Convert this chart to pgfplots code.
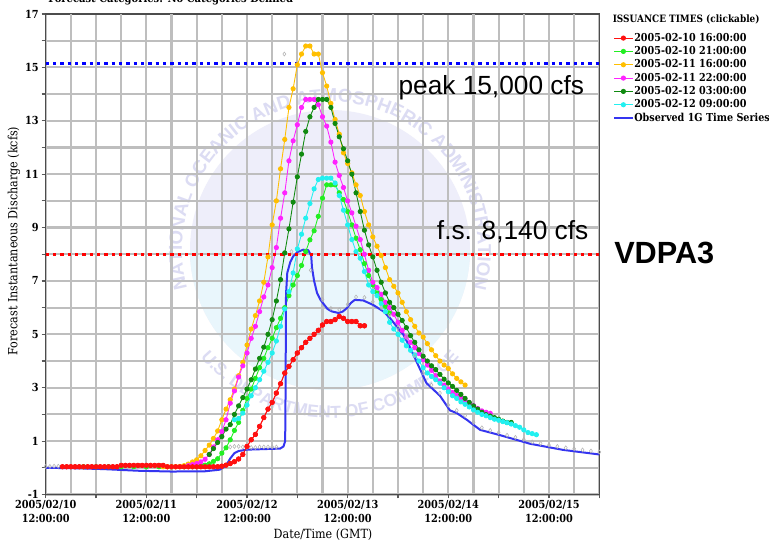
\documentclass[border=0pt]{standalone}
\usepackage{fontspec}
\setmainfont{DejaVu Serif}[FakeStretch=0.88]
\newfontfamily\sansf{Liberation Sans}
\usepackage{pgfplots}
\usepackage{pgfplotstable}
\pgfplotsset{compat=1.18}
\usetikzlibrary{decorations.text}

\definecolor{cRed}{HTML}{FF1010}
\definecolor{cLime}{HTML}{22EE22}
\definecolor{cOrange}{HTML}{FFBF00}
\definecolor{cMag}{HTML}{FF22FF}
\definecolor{cDG}{HTML}{108A10}
\definecolor{cCyan}{HTML}{22F0F0}
\definecolor{cObs}{HTML}{3535F0}
\definecolor{gridc}{HTML}{BEBEBE}
\definecolor{wmLav}{HTML}{EEEEFA}
\definecolor{wmCyan}{HTML}{E9F6FC}
\definecolor{wmText}{HTML}{DCDCF3}

\pgfplotstableread{
h v
4 0.04
5 0.04
6 0.04
7 0.04
8 0.04
9 0.04
10 0.04
11 0.04
12 0.04
13 0.04
14 0.04
15 0.04
16 0.04
17 0.04
18 0.09
19 0.09
20 0.09
21 0.09
22 0.09
23 0.09
24 0.09
25 0.09
26 0.09
27 0.09
28 0.09
29 0.04
30 0.04
31 0.04
32 0.04
33 0.04
34 0.04
35 0.04
36 0.04
37 0.04
38 0.04
39 0.04
40 0.04
41 0.04
42 0.06
43 0.10
44 0.16
45 0.23
46 0.33
47 0.50
48 0.80
49 1.05
50 1.25
51 1.55
52 1.88
53 2.20
54 2.45
55 2.80
56 3.15
57 3.55
58 3.80
59 4.05
60 4.30
61 4.50
62 4.70
63 4.85
64 5.00
65 5.15
66 5.35
67 5.48
68 5.48
69 5.55
70 5.67
71 5.60
72 5.48
73 5.48
74 5.48
75 5.32
76 5.32
}\redtab

\pgfplotstableread{
h v
9 0.04
12 0.04
15 0.04
18 0.04
21 0.04
24 0.04
27 0.04
30 0.04
33 0.04
35 0.04
36 0.05
37 0.07
38 0.10
39 0.15
40 0.24
41 0.34
42 0.55
43 0.75
44 1.05
45 1.40
46 1.70
47 2.15
48 2.60
49 2.95
50 3.35
51 3.75
52 4.10
53 4.50
54 4.85
55 5.25
56 5.60
57 6.00
58 6.45
59 6.85
60 7.20
61 7.58
62 8.10
63 8.54
64 8.88
65 9.42
66 10.10
67 10.60
68 10.60
69 10.60
70 10.30
71 10.05
72 9.60
73 9.10
74 8.60
75 8.17
76 7.65
77 7.20
78 6.85
79 6.55
80 6.30
81 6.05
82 5.80
}\limetab

\pgfplotstableread{
h v
28 0.04
29 0.04
30 0.04
31 0.04
32 0.05
33 0.08
34 0.14
35 0.22
36 0.30
37 0.45
38 0.65
39 0.85
40 1.10
41 1.38
42 1.80
43 2.20
44 2.55
45 2.95
46 3.45
47 3.95
48 4.60
49 5.20
50 5.70
51 6.25
52 6.95
53 7.90
54 9.10
55 10.00
56 11.20
57 12.30
58 13.50
59 14.20
60 15.10
61 15.50
62 15.80
63 15.80
64 15.50
65 15.50
66 14.80
67 14.30
68 13.65
69 13.05
70 12.50
71 11.80
72 11.40
73 11.05
74 10.60
75 10.20
76 9.60
77 9.10
78 8.65
79 8.30
80 7.95
81 7.50
82 7.05
83 6.80
84 6.55
85 6.20
86 5.85
87 5.55
88 5.30
89 5.05
90 4.90
91 4.65
92 4.42
93 4.20
94 4.00
95 3.85
96 3.72
97 3.52
98 3.35
99 3.22
100 3.10
}\orangetab

\pgfplotstableread{
h v
34 0.08
35 0.12
36 0.16
37 0.22
38 0.32
39 0.50
40 0.78
41 1.05
42 1.36
43 1.80
44 2.42
45 2.88
46 3.40
47 3.82
48 4.30
49 4.85
50 5.30
51 5.85
52 6.40
53 6.85
54 7.50
55 8.25
56 9.35
57 10.30
58 11.50
59 12.25
60 12.85
61 13.50
62 13.80
63 13.80
64 13.80
65 13.60
66 13.15
67 12.80
68 12.20
69 11.45
70 10.95
71 10.50
72 10.00
73 9.55
74 9.05
75 8.55
76 8.00
77 7.40
78 6.95
79 6.75
80 6.50
81 6.20
82 6.00
83 5.75
84 5.45
85 5.15
86 4.90
87 4.70
88 4.50
89 4.28
90 4.05
91 3.85
92 3.65
93 3.45
94 3.25
95 3.10
96 2.95
97 2.82
98 2.72
99 2.62
100 2.52
101 2.43
102 2.33
103 2.22
104 2.13
105 2.08
106 2.04
}\magtab

\pgfplotstableread{
h v
39 0.50
40 0.72
41 0.95
42 1.17
43 1.45
44 1.62
45 2.00
46 2.32
47 2.63
48 2.95
49 3.30
50 3.70
51 4.10
52 4.52
53 5.00
54 5.55
55 6.25
56 7.05
57 8.05
58 8.95
59 9.95
60 10.90
61 11.75
62 12.60
63 13.15
64 13.50
65 13.80
66 13.80
67 13.80
68 13.50
69 12.90
70 12.40
71 11.95
72 11.50
73 11.00
74 10.30
75 9.60
76 8.90
77 8.35
78 7.90
79 7.40
80 6.95
81 6.55
82 6.20
83 6.00
84 5.75
85 5.52
86 5.25
87 4.95
88 4.70
89 4.42
90 4.18
91 4.00
92 3.82
93 3.68
94 3.50
95 3.32
96 3.18
97 3.05
98 2.90
99 2.75
100 2.60
101 2.45
102 2.32
103 2.20
104 2.08
105 1.99
106 1.94
107 1.88
108 1.82
109 1.75
110 1.70
111 1.70
}\dgtab

\pgfplotstableread{
h v
45 1.80
46 1.85
47 2.05
48 2.35
49 2.70
50 3.00
51 3.30
52 3.62
53 3.95
54 4.30
55 4.75
56 5.30
57 5.95
58 6.60
59 7.30
60 8.20
61 8.75
62 9.35
63 9.90
64 10.45
65 10.80
66 10.85
67 10.85
68 10.85
69 10.67
70 10.20
71 9.65
72 9.10
73 8.55
74 8.10
75 7.85
76 7.35
77 6.85
78 6.60
79 6.45
80 6.15
81 5.85
82 5.45
83 5.20
84 5.00
85 4.78
86 4.57
87 4.40
88 4.23
89 4.00
90 3.75
91 3.55
92 3.42
93 3.30
94 3.17
95 3.00
96 2.85
97 2.70
98 2.60
99 2.47
100 2.38
101 2.28
102 2.17
103 2.08
104 2.00
105 1.95
106 1.88
107 1.82
108 1.78
109 1.73
110 1.69
111 1.64
112 1.58
113 1.52
114 1.42
115 1.32
116 1.28
117 1.24
}\cyantab

\pgfplotstableread{
h v
0 0.00
8 -0.02
14 -0.05
22 -0.11
30 -0.14
38 -0.13
41.5 -0.07
43 0.08
44 0.35
45 0.55
46 0.63
48 0.68
52 0.70
55.9 0.72
56.7 0.80
57.1 1.00
57.2 3.00
57.3 6.50
57.6 7.30
58.3 7.70
59 7.92
60 8.08
61.4 8.17
62.6 8.15
63.3 7.95
63.5 7.50
64 7.00
64.7 6.55
65.5 6.30
66.2 6.15
67.2 5.95
68.2 5.86
69.8 5.80
70.8 5.85
71.8 5.98
72.8 6.18
73.7 6.29
75.7 6.27
78.1 6.10
80.5 5.86
82.1 5.61
83.7 5.29
85.3 4.98
86.9 4.50
88.8 3.85
90.8 3.17
92.3 2.95
94 2.70
96.4 2.15
98 2.05
100.4 1.80
103.6 1.42
108.4 1.22
115.5 0.90
123.4 0.67
132 0.50
}\obstab

\pgfplotstableread{
h v
0 0.05
1 0.05
2 0.06
3 0.06
44 0.78
45 0.80
46 0.80
47 0.78
48 0.76
49 0.76
50 0.76
51 0.78
52 0.78
53 0.78
54 0.78
55 0.78
56.9 15.50
58.6 8.10
63.2 7.40
66 6.30
68 5.97
70 5.92
72 6.12
74 6.40
76 6.38
78 6.22
80 6.00
82 5.72
84 5.25
86 4.90
88 4.20
90 3.55
92 3.10
94 2.80
96 2.35
98 2.15
100 1.95
102 1.70
104 1.50
106 1.40
108 1.32
110 1.22
112 1.14
114 1.06
116 0.97
118 0.91
120 0.85
122 0.80
124 0.75
126 0.71
128 0.67
130 0.63
132 0.59
}\graytab

\pgfplotstableread{
h v
0 15.15
132 15.15
}\peaktab

\pgfplotstableread{
h v
0 7.98
132 7.98
}\fstab

\newcommand\tickfont{\bfseries\fontsize{8.3}{10}\selectfont}

\begin{document}
\begin{tikzpicture}
\useasboundingbox (0,0) rectangle (576.75pt,407.25pt);
\fill[white] (0,0) rectangle (576.75pt,407.25pt);

% faint watermark (centre at pixel 330,250)
\begin{scope}
\fill[wmLav] (247.5pt,219.75pt) circle[radius=105pt];
\begin{scope}
\clip (247.5pt,219.75pt) circle[radius=105pt];
\fill[wmCyan] (130pt,219.75pt) rectangle (370pt,100pt);
\end{scope}
\path[decorate, decoration={text along path, text align=center,
  text={|\sansf\bfseries\fontsize{14}{14}\selectfont\color{wmText}|NATIONAL OCEANIC AND ATMOSPHERIC ADMINISTRATION}}]
  (247.5pt,219.75pt) ++(200:111pt) arc[start angle=200, end angle=-20, radius=111pt];
\path[decorate, decoration={text along path, text align=center,
  text={|\sansf\bfseries\fontsize{13}{13}\selectfont\color{wmText}|U.S. DEPARTMENT OF COMMERCE}}]
  (247.5pt,219.75pt) ++(212:126pt) arc[start angle=212, end angle=328, radius=126pt];
\end{scope}

\begin{axis}[
  at={(34.275pt,36.375pt)}, anchor=south west,
  scale only axis, width=415.2pt, height=360.375pt,
  xmin=0, xmax=132, ymin=-1, ymax=17,
  xtick={0,12,...,132},
  xticklabels={{2005/02/10\\12:00:00},{},{2005/02/11\\12:00:00},{},{2005/02/12\\12:00:00},{},{2005/02/13\\12:00:00},{},{2005/02/14\\12:00:00},{},{2005/02/15\\12:00:00},{}},
  extra x ticks={6,18,30,42,54,66,78,90,102,114,126},
  extra x tick labels={},
  extra x tick style={major tick length=0pt, grid=major},
  ytick={-1,0,...,17},
  yticklabels={-1,{},1,{},3,{},5,{},7,{},9,{},11,{},13,{},15,{},17},
  xmajorgrids, ymajorgrids,
  major grid style={gridc, line width=1.6pt},
  tick align=outside,
  major tick length=3pt,
  tick style={black!65, line width=0.9pt},
  axis line style={black!70, line width=1.1pt},
  xtick pos=bottom, ytick pos=left,
  tick label style={font=\tickfont},
  x tick label style={align=center, inner sep=1.5pt},
  y tick label style={inner sep=2pt},
  legend style={at={(axis description cs:1.0248,0.9626)}, anchor=north west,
    draw=none, fill=none, font=\bfseries\fontsize{8.2}{9}\selectfont,
    legend cell align=left, inner sep=0pt,
    nodes={inner sep=0.6pt, text height=6pt, text depth=1.6pt}, row sep=1.2pt},
  legend image code/.code={\draw[mark repeat=2,mark phase=2,#1] plot coordinates {(0cm,0cm) (0.24cm,0cm) (0.48cm,0cm)};},
  fc/.style={line width=0.65pt, mark=*, mark size=1.6pt, mark options={solid}},
]
\addplot[cRed, fc] table[x=h,y=v] {\redtab};
\addlegendentry{2005-02-10 16:00:00}
\addplot[cLime, fc] table[x=h,y=v] {\limetab};
\addlegendentry{2005-02-10 21:00:00}
\addplot[cOrange, fc] table[x=h,y=v] {\orangetab};
\addlegendentry{2005-02-11 16:00:00}
\addplot[cMag, fc] table[x=h,y=v] {\magtab};
\addlegendentry{2005-02-11 22:00:00}
\addplot[cDG, fc] table[x=h,y=v] {\dgtab};
\addlegendentry{2005-02-12 03:00:00}
\addplot[cCyan, fc] table[x=h,y=v] {\cyantab};
\addlegendentry{2005-02-12 09:00:00}
\addplot[cObs, line width=1.5pt] table[x=h,y=v] {\obstab};
\addlegendentry{Observed 1G Time Series}
\addplot[forget plot, gray!60, only marks, mark=diamond, mark size=1.5pt, mark options={line width=0.4pt}] table[x=h,y=v] {\graytab};
\addplot[forget plot, cRed, fc] table[x=h,y=v] {\redtab};
\addplot[forget plot, blue, line width=2.5pt, dash pattern=on 2.5pt off 3pt] table[x=h,y=v] {\peaktab};
\addplot[forget plot, red, line width=2.5pt, dash pattern=on 2.5pt off 3pt] table[x=h,y=v] {\fstab};
\end{axis}

% texts placed in pixel coordinates (x right, y down)
\begin{scope}[x=0.75pt, y=-0.75pt, yshift=407.25pt]
\node[anchor=base west, inner sep=0pt, font=\bfseries\fontsize{8.5}{10}\selectfont] at (48,2.5) {Forecast Categories: No Categories Defined};
\node[anchor=base west, inner sep=0pt, font=\bfseries\fontsize{7.6}{9}\selectfont] at (612.5,23) {ISSUANCE TIMES (clickable)};
\node[anchor=base west, inner sep=0pt, font=\sansf\fontsize{19.7}{20}\selectfont] at (398.3,95) {peak 15,000 cfs};
\node[anchor=base west, inner sep=0pt, font=\sansf\fontsize{19.7}{20}\selectfont] at (436.7,239.5) {f.s. 8,140 cfs};
\node[anchor=base west, inner sep=0pt, font=\sansf\bfseries\fontsize{23}{24}\selectfont] at (614,264) {VDPA3};
\node[anchor=center, inner sep=0pt, font=\fontsize{9.5}{11}\selectfont] at (323,535) {Date/Time (GMT)};
\node[anchor=center, inner sep=0pt, rotate=90, font=\fontsize{9.5}{11}\selectfont] at (14,241) {Forecast Instantaneous Discharge (kcfs)};
\end{scope}
\end{tikzpicture}
\end{document}
